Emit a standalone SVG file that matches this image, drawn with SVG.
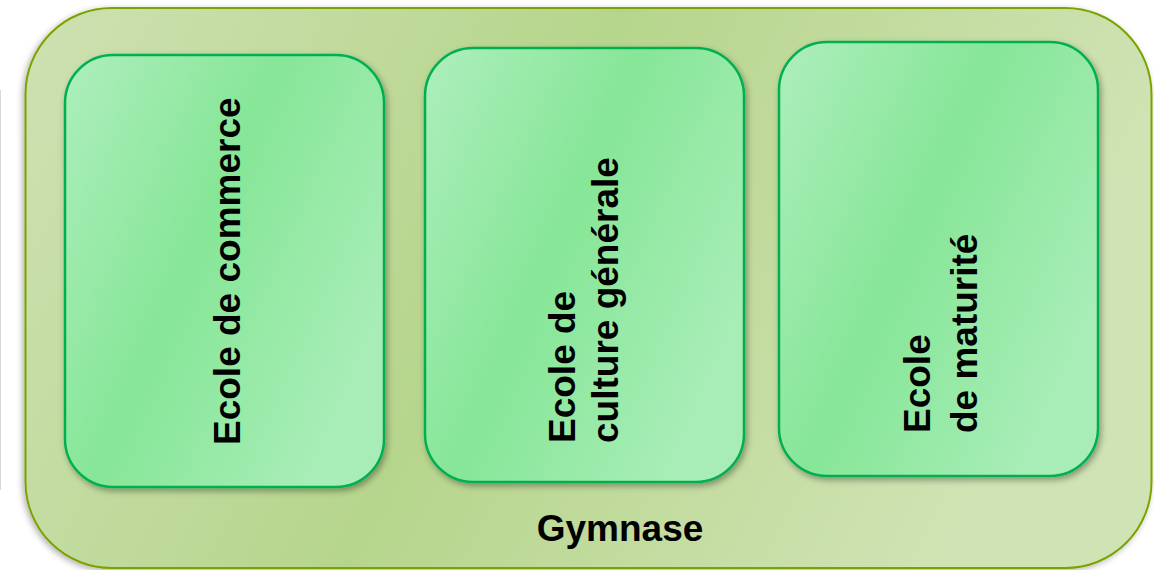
<svg xmlns="http://www.w3.org/2000/svg" width="1154" height="570" viewBox="0 0 1154 570">
<defs>
<linearGradient id="gOuter" x1="0" y1="0" x2="1" y2="0.25">
<stop offset="0" stop-color="#cee1b2"/>
<stop offset="0.5" stop-color="#b6d58c"/>
<stop offset="1" stop-color="#d0e3b4"/>
</linearGradient>
<linearGradient id="gInner" x1="0" y1="0" x2="1" y2="0.6">
<stop offset="0" stop-color="#aeeebd"/>
<stop offset="0.5" stop-color="#86e697"/>
<stop offset="1" stop-color="#a8edb7"/>
</linearGradient>
<filter id="shOuter" x="-5%" y="-5%" width="110%" height="110%">
<feDropShadow dx="-2" dy="2" stdDeviation="3" flood-color="#000" flood-opacity="0.3"/>
</filter>
<filter id="shInner" x="-10%" y="-10%" width="120%" height="120%">
<feDropShadow dx="2" dy="3" stdDeviation="3" flood-color="#000" flood-opacity="0.35"/>
</filter>
</defs>
<style>
.outer{fill:url(#gOuter);stroke:#7aa300;stroke-width:2}
.box{fill:url(#gInner);stroke:#00b050;stroke-width:2.5}
.t{font-family:"Liberation Sans",Arial,sans-serif;font-weight:bold;font-size:37px;fill:#000}
</style>
<line x1="0.5" y1="90" x2="0.5" y2="490" stroke="#d8d8d8" stroke-width="1"/>
<g id="gymnase">
<rect class="outer" x="25.5" y="8" width="1126" height="560" rx="86" ry="86" filter="url(#shOuter)"/>
<text class="t" x="620" y="541" text-anchor="middle">Gymnase</text>
</g>
<g id="ecole-commerce">
<rect class="box" x="65" y="55" width="319" height="432" rx="48" ry="48" filter="url(#shInner)"/>
<text class="t" transform="translate(240,445) rotate(-90)">Ecole de commerce</text>
</g>
<g id="ecole-culture">
<rect class="box" x="425" y="48" width="319" height="434" rx="48" ry="48" filter="url(#shInner)"/>
<text class="t" transform="translate(575,443) rotate(-90)">Ecole de</text>
<text class="t" transform="translate(618,443) rotate(-90)">culture générale</text>
</g>
<g id="ecole-maturite">
<rect class="box" x="779" y="42" width="319" height="434" rx="48" ry="48" filter="url(#shInner)"/>
<text class="t" transform="translate(930,433) rotate(-90)">Ecole</text>
<text class="t" transform="translate(977,433) rotate(-90)">de maturité</text>
</g>
<g id="connectors"/>
</svg>
